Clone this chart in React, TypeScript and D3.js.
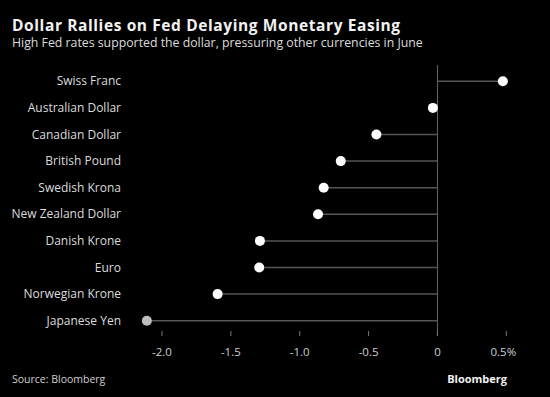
import React from "react";
import * as d3 from "d3";

const categories = [
  "Swiss Franc",
  "Australian Dollar",
  "Canadian Dollar",
  "British Pound",
  "Swedish Krona",
  "New Zealand Dollar",
  "Danish Krone",
  "Euro",
  "Norwegian Krone",
  "Japanese Yen",
];
const values = [0.475, -0.033, -0.443, -0.702, -0.826, -0.867, -1.289, -1.294, -1.596, -2.11];
const tickValues = [-2.0, -1.5, -1.0, -0.5, 0, 0.5];
const tickLabels = ["-2.0", "-1.5", "-1.0", "-0.5", "0", "0.5%"];

const W = 550;
const H = 397;
const FONT = "'Open Sans', 'Noto Sans', sans-serif";

export default function App() {
  const x = d3.scaleLinear().domain([-2, 0.5]).range([162, 506.3]);
  const y = d3
    .scaleBand<string>()
    .domain(categories)
    .range([68, 334])
    .paddingInner(0)
    .paddingOuter(0);
  const cy = (c: string) => (y(c) as number) + y.bandwidth() / 2;
  const x0 = x(0);

  return (
    <div style={{ position: "absolute", left: 0, top: 0, margin: 0 }}>
      <svg width={W} height={H} style={{ display: "block", background: "#000" }}>
        <rect x={0} y={0} width={W} height={H} fill="#000" />
        <text
          x={12}
          y={30.5}
          fill="#f2f2f2"
          fontFamily={FONT}
          fontWeight={700}
          fontSize={15.5}
          letterSpacing={0.6}
        >
          Dollar Rallies on Fed Delaying Monetary Easing
        </text>
        <text x={12} y={47} fill="#dcdcdc" fontFamily={FONT} fontSize={12.3}>
          High Fed rates supported the dollar, pressuring other currencies in June
        </text>

        {/* stems */}
        {categories.map((c, i) => (
          <line
            key={"s" + c}
            x1={x0}
            x2={x(values[i])}
            y1={cy(c)}
            y2={cy(c)}
            stroke="#555"
            strokeWidth={1.5}
          />
        ))}
        {/* zero line */}
        <line x1={x0} x2={x0} y1={65} y2={336} stroke="#666" strokeWidth={1} />

        {/* ticks */}
        {tickValues.map((t, i) => (
          <g key={"t" + t}>
            <line x1={x(t)} x2={x(t)} y1={331} y2={336} stroke="#777" strokeWidth={1} />
            <text
              x={x(t) - (i === tickValues.length - 1 ? 3 : 0)}
              y={356}
              textAnchor="middle"
              fill="#cfcfcf"
              fontFamily={FONT}
              fontSize={11.5}
            >
              {tickLabels[i]}
            </text>
          </g>
        ))}

        {/* labels */}
        {categories.map((c) => (
          <text
            key={"l" + c}
            x={121}
            y={cy(c) + 4}
            textAnchor="end"
            fill="#dcdcdc"
            fontFamily={FONT}
            fontSize={12}
          >
            {c}
          </text>
        ))}

        {/* dots */}
        {categories.map((c, i) => (
          <circle
            key={"d" + c}
            cx={x(values[i])}
            cy={cy(c)}
            r={5}
            fill={c === "Japanese Yen" ? "#bdbdbd" : "#ffffff"}
          />
        ))}

        <text x={12} y={383} fill="#cfcfcf" fontFamily={FONT} fontSize={10.5}>
          Source: Bloomberg
        </text>
        <text
          x={507}
          y={383}
          textAnchor="end"
          fill="#f2f2f2"
          fontFamily={FONT}
          fontWeight={700}
          fontSize={11}
        >
          Bloomberg
        </text>
      </svg>
    </div>
  );
}
